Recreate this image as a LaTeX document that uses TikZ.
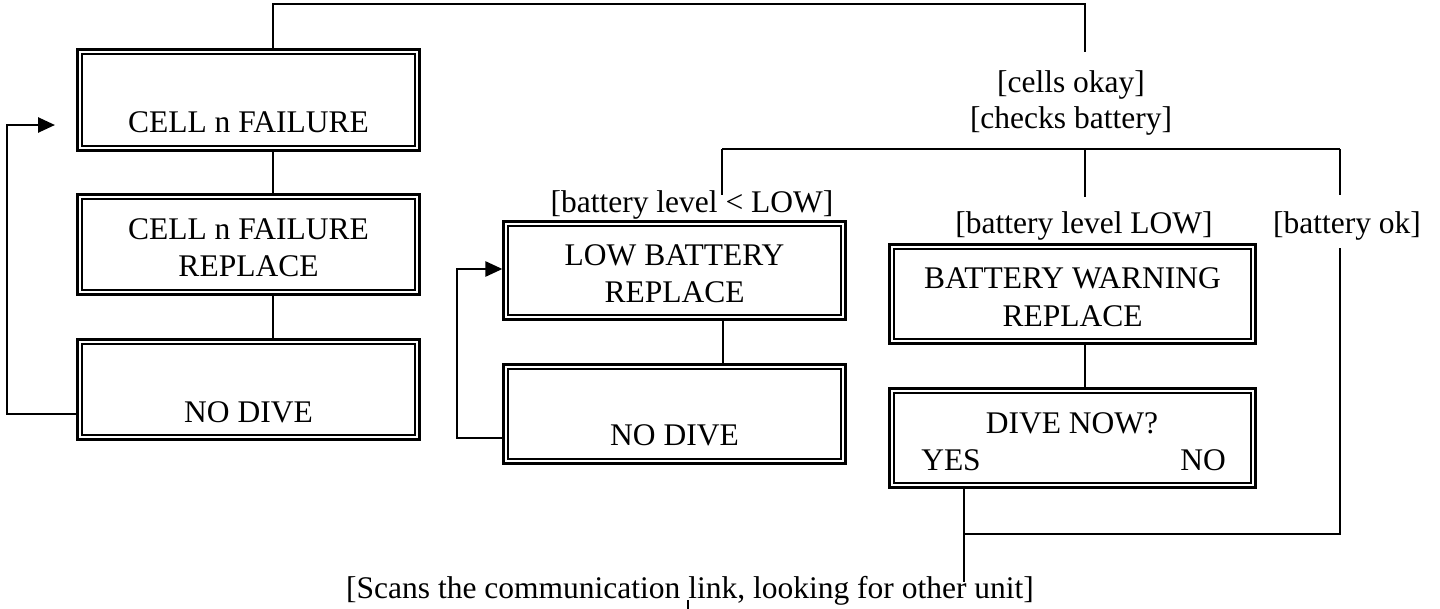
\documentclass[tikz,border=0pt]{standalone}
\usepackage{fontspec}
\setmainfont{Liberation Serif}
\usetikzlibrary{arrows.meta}
\begin{document}
\begin{tikzpicture}[x=1pt,y=-1pt,
  box/.style={draw, line width=2.6pt, double=white, double distance=2.2pt, inner sep=0pt, minimum width=337.6pt},
  txt/.style={font=\fontsize{31.5}{37}\selectfont, inner sep=0pt, anchor=base},
  wire/.style={line width=2.6pt},
  arr/.style={wire, -{Triangle[length=17pt,width=15pt]}}]
\useasboundingbox (0,0) rectangle (1440,608);

% boxes
\node[box, minimum height=96.6pt] (C1) at (248.5,100) {};
\node[box, minimum height=95.6pt] (C2) at (248.5,244.5) {};
\node[box, minimum height=95.6pt] (C3) at (248.5,389.5) {};
\node[box, minimum height=93.6pt] (LB) at (674.5,270.5) {};
\node[box, minimum height=94.6pt] (ND) at (674.5,414) {};
\node[box, minimum width=361.6pt, minimum height=94.6pt] (BW) at (1072.5,294) {};
\node[box, minimum width=361.6pt, minimum height=94.6pt] (DN) at (1072.5,438) {};

% texts in boxes
\node[txt] (t1) at (248.5,132) {CELL n FAILURE};
\node[txt] (t2a) at (248.5,239) {CELL n FAILURE};
\node[txt] (t2b) at (248.5,276) {REPLACE};
\node[txt] (t3) at (248.5,422) {NO DIVE};
\node[txt] (t4a) at (674.5,265) {LOW BATTERY};
\node[txt] (t4b) at (674.5,302) {REPLACE};
\node[txt] (t5) at (674.5,445) {NO DIVE};
\node[txt] (t6a) at (1072.5,288) {BATTERY WARNING};
\node[txt] (t6b) at (1072.5,326) {REPLACE};
\node[txt] (t7a) at (1072,433) {DIVE NOW?};
\node[txt] (t7b) at (951,470) {YES};
\node[txt] (t7c) at (1203,470) {NO};

% guard labels
\node[txt] (g1) at (1071,92) {[cells okay]};
\node[txt] (g2) at (1071,128) {[checks battery]};
\node[txt] (g3) at (692,212) {[battery level < LOW]};
\node[txt] (g4) at (1084,233) {[battery level LOW]};
\node[txt] (g5) at (1347,233) {[battery ok]};
\node[txt] (g6) at (690,598) {[Scans the communication link, looking for other unit]};

% coordinates
\coordinate (top1) at (273,4);
\coordinate (top2) at (1085,4);
\coordinate (ok1) at (1085,52);
\coordinate (h2l) at (722,149);
\coordinate (h2m) at (1085,149);
\coordinate (h2r) at (1340,149);
\coordinate (e1) at (722,195);
\coordinate (e2) at (1085,197);
\coordinate (e3) at (1340,195);
\coordinate (r2) at (1340,248);
\coordinate (r3) at (1340,534);
\coordinate (j) at (964,534);
\coordinate (e4) at (964,582);
\coordinate (k1) at (688,600);
\coordinate (k2) at (688,612);
\coordinate (l1) at (7,414);
\coordinate (l2) at (7,125);
\coordinate (a1) at (55,125);
\coordinate (m1) at (457,438);
\coordinate (m2) at (457,269);
\coordinate (x2) at (723,0);

% connectors
\draw[wire] (C1.north -| top1) -- (top1) -- (top2) -- (ok1);
\draw[wire] (h2l) -- (h2r);
\draw[wire] (h2l) -- (e1);
\draw[wire] (h2m) -- (e2);
\draw[wire] (h2r) -- (e3);
\draw[wire] (r2) -- (r3) -- (j);
\draw[wire] (DN.south -| j) -- (e4);
\draw[wire] (k1) -- (k2);
\draw[wire] (C1.south -| top1) -- (C2.north -| top1);
\draw[wire] (C2.south -| top1) -- (C3.north -| top1);
\draw[arr] (C3.west |- l1) -- (l1) -- (l2) -- (a1);
\draw[arr, shorten >=2pt] (ND.west |- m1) -- (m1) -- (m2) -- (LB.west |- m2);
\draw[wire] (LB.south -| x2) -- (ND.north -| x2);
\draw[wire] (BW.south -| h2m) -- (DN.north -| h2m);
\end{tikzpicture}
\end{document}
